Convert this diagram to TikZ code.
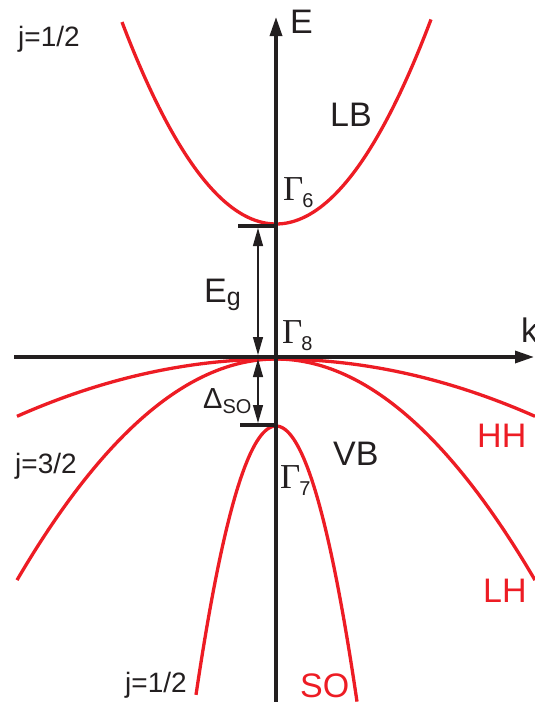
\documentclass[tikz,border=0pt]{standalone}
\usepackage{fontspec}
\setmainfont{Liberation Sans}
\newfontfamily\gammafont{Liberation Serif}
\usetikzlibrary{arrows.meta}
\definecolor{bandred}{HTML}{ED1C24}
\definecolor{ink}{HTML}{231F20}
\begin{document}
\begin{tikzpicture}[x=1pt,y=-1pt,
  band/.style={draw=bandred, line width=3.3pt},
  axisline/.style={draw=ink, line width=3.3pt, -{Triangle[length=19pt,width=12pt]}},
  gaparrow/.style={draw=ink, line width=1.3pt, {Triangle[length=18pt,width=10pt]}-{Triangle[length=18pt,width=10pt]}},
  level/.style={draw=ink, line width=3.3pt},
  lbl/.style={text=ink, inner sep=0pt, anchor=base west, font=\fontsize{34}{34}\selectfont},
  redlbl/.style={lbl, text=bandred},
  jlbl/.style={text=ink, inner sep=0pt, anchor=base west, font=\fontsize{28}{28}\selectfont},
  gam/.style={text=ink, inner sep=0pt, anchor=base west, font=\gammafont\fontsize{35}{35}\selectfont}
]
\useasboundingbox (0,0) rectangle (535,702);
% bands
\draw[band] plot[domain=122:431, samples=80, smooth] (\x, {224-0.00852*(\x-276)*(\x-276)});
\draw[band] plot[domain=17:535, samples=80, smooth] (\x, {359+0.00085*(\x-276)*(\x-276)});
\draw[band] plot[domain=17:535, samples=80, smooth] (\x, {359+0.0033*(\x-276)*(\x-276)});
\draw[band] plot[domain=196:357, samples=80, smooth] (\x, {426+0.042*(\x-276)*(\x-276)});
% axes
\coordinate (ebot) at (276,702);
\coordinate (etop) at (276,17);
\coordinate (kleft) at (14,357);
\coordinate (kright) at (534,357);
\draw[axisline] (ebot) -- (etop);
\draw[axisline] (kleft) -- (kright);
% levels
\coordinate (g6l) at (238,226);
\coordinate (g6r) at (276,226);
\coordinate (g7l) at (240,425);
\coordinate (g7r) at (276,425);
\draw[level] (g6l) -- (g6r);
\draw[level] (g7l) -- (g7r);
% gap arrows
\coordinate (eg1) at (258,228);
\coordinate (eg2) at (258,355);
\coordinate (so1) at (258,359);
\coordinate (so2) at (258,423);
\draw[gaparrow] (eg1) -- (eg2);
\draw[gaparrow] (so1) -- (so2);
% labels
\node[lbl] (E) at (290,33) {E};
\node[lbl] (k) at (521,342) {k};
\node[jlbl] (jtop) at (18,46) {j=1/2};
\node[lbl] (LB) at (330,126) {LB};
\node[gam] (G6) at (283,200) {Γ\kern-1pt\raisebox{-7pt}{\fontspec{Liberation Sans}\fontsize{20}{20}\selectfont 6}};
\node[lbl] (Eg) at (204,302) {E\raisebox{-3pt}{\fontsize{25}{25}\selectfont g}};
\node[gam] (G8) at (282,343) {Γ\kern-1pt\raisebox{-7pt}{\fontspec{Liberation Sans}\fontsize{20}{20}\selectfont 8}};
\node[text=ink, inner sep=0pt, anchor=base west, font=\fontsize{29}{29}\selectfont] (Dso) at (203,408) {Δ\raisebox{-5pt}{\fontsize{20}{20}\selectfont SO}};
\node[lbl] (VB) at (333,465) {VB};
\node[gam] (G7) at (280,488) {Γ\kern-1pt\raisebox{-7pt}{\fontspec{Liberation Sans}\fontsize{20}{20}\selectfont 7}};
\node[jlbl] (jmid) at (15,473) {j=3/2};
\node[redlbl] (HH) at (477,447) {HH};
\node[redlbl] (LH) at (483,602) {LH};
\node[redlbl] (SO) at (300,697) {SO};
\node[jlbl] (jbot) at (125,692) {j=1/2};
\end{tikzpicture}
\end{document}
